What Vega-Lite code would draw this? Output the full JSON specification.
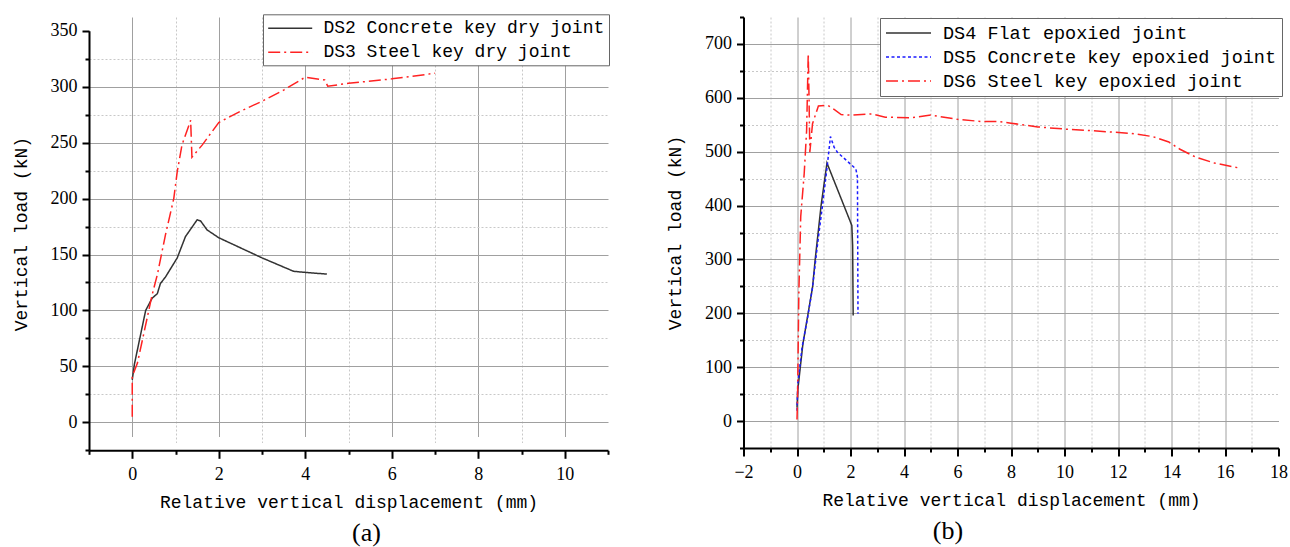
{
  "$schema": "https://vega.github.io/schema/vega-lite/v6.json",
  "background": "white",
  "padding": {"left": 12, "top": 13, "right": 0, "bottom": 0},
  "spacing": 56.5,
  "bounds": "full",
  "resolve": {"scale": {"color": "independent", "strokeDash": "independent"}, "legend": {"color": "independent", "strokeDash": "independent"}},
  "config": {
    "view": {"stroke": null},
    "axis": {"labelOverlap": false, "labelFlush": false}
  },
  "hconcat": [
    {
      "width": 519,
      "height": 433.3,
      "title": {"text": "(a)", "orient": "bottom", "anchor": "middle", "frame": "group", "dx": 18, "offset": 9, "font": "Liberation Serif", "fontSize": 26, "fontWeight": "normal", "color": "black"},
      "data": {"values": [
        {"series": "DS2 Concrete key dry joint", "disp": 0, "load": 38},
        {"series": "DS2 Concrete key dry joint", "disp": 0.05, "load": 52},
        {"series": "DS2 Concrete key dry joint", "disp": 0.31, "load": 100},
        {"series": "DS2 Concrete key dry joint", "disp": 0.46, "load": 111},
        {"series": "DS2 Concrete key dry joint", "disp": 0.58, "load": 115},
        {"series": "DS2 Concrete key dry joint", "disp": 0.65, "load": 124},
        {"series": "DS2 Concrete key dry joint", "disp": 0.77, "load": 130},
        {"series": "DS2 Concrete key dry joint", "disp": 1.04, "load": 147},
        {"series": "DS2 Concrete key dry joint", "disp": 1.23, "load": 166},
        {"series": "DS2 Concrete key dry joint", "disp": 1.5, "load": 181},
        {"series": "DS2 Concrete key dry joint", "disp": 1.58, "load": 180},
        {"series": "DS2 Concrete key dry joint", "disp": 1.73, "load": 172},
        {"series": "DS2 Concrete key dry joint", "disp": 2.0, "load": 165},
        {"series": "DS2 Concrete key dry joint", "disp": 3.0, "load": 147},
        {"series": "DS2 Concrete key dry joint", "disp": 3.73, "load": 135},
        {"series": "DS2 Concrete key dry joint", "disp": 4.0, "load": 134},
        {"series": "DS2 Concrete key dry joint", "disp": 4.5, "load": 132.5},
        {"series": "DS3 Steel key dry joint", "disp": 0, "load": 5},
        {"series": "DS3 Steel key dry joint", "disp": 0, "load": 41},
        {"series": "DS3 Steel key dry joint", "disp": 0.12, "load": 53},
        {"series": "DS3 Steel key dry joint", "disp": 0.46, "load": 114},
        {"series": "DS3 Steel key dry joint", "disp": 0.58, "load": 132},
        {"series": "DS3 Steel key dry joint", "disp": 0.77, "load": 168},
        {"series": "DS3 Steel key dry joint", "disp": 0.96, "load": 200},
        {"series": "DS3 Steel key dry joint", "disp": 1.04, "load": 224},
        {"series": "DS3 Steel key dry joint", "disp": 1.15, "load": 248},
        {"series": "DS3 Steel key dry joint", "disp": 1.27, "load": 261},
        {"series": "DS3 Steel key dry joint", "disp": 1.35, "load": 270},
        {"series": "DS3 Steel key dry joint", "disp": 1.38, "load": 237},
        {"series": "DS3 Steel key dry joint", "disp": 1.62, "load": 248},
        {"series": "DS3 Steel key dry joint", "disp": 2.0, "load": 268},
        {"series": "DS3 Steel key dry joint", "disp": 2.5, "load": 278},
        {"series": "DS3 Steel key dry joint", "disp": 3.0, "load": 287},
        {"series": "DS3 Steel key dry joint", "disp": 3.5, "load": 297},
        {"series": "DS3 Steel key dry joint", "disp": 4.0, "load": 308.5},
        {"series": "DS3 Steel key dry joint", "disp": 4.45, "load": 306},
        {"series": "DS3 Steel key dry joint", "disp": 4.52, "load": 300.5},
        {"series": "DS3 Steel key dry joint", "disp": 5.0, "load": 303},
        {"series": "DS3 Steel key dry joint", "disp": 6.0, "load": 307},
        {"series": "DS3 Steel key dry joint", "disp": 7.0, "load": 312}
      ]},
      "layer": [
        {
          "mark": {"type": "point", "opacity": 0},
          "encoding": {
            "x": {"field": "disp", "type": "quantitative", "scale": {"domain": [-1, 11], "nice": false, "zero": false},
                  "axis": {"orient": "bottom", "values": [1, 3, 5, 7, 9], "grid": true, "gridColor": "#c8c8c8", "gridWidth": 1, "ticks": false, "labels": false, "domain": false, "title": null,
                           "gridDash": [2,2,2,2,2,2,2,2,2,2,2,2,2,2,2,2,2,2,2,2,2,2,2,2,2,2,2,2,2,2,2,2,2,2,2,2,2,2,2,2,2,2,2,2,2,2,2,2,2,2,2,2,2,2,2,2,2,2,2,2,2,2,2,2,2,2,2,2,2,2,2,2,2,2,2,2,2,2,2,2,2,2,2,2,2,2,2,2,2,2,2,2,2,2,2,2,2,2,2,2,2,2,2,2,2,2,2,2,2,2,2,2,2,2,2,2,2,2,2,2,2,2,2,2,2,2,2,2,2,2,2,2,2,2,2,2,2,2,2,2,2,2,2,2,2,2,2,2,2,2,2,2,2,2,2,2,2,2,2,2,2,2,2,2,2,2,2,2,2,2,2,2,2,2,2,2,2,2,2,2,2,2,2,2,2,2,2,2,2,2,2,2,2,2,2,2,2,2,2,2,2,2,2,2,2,2,2,2,2,2,2,2,1.5,40]}},
            "y": {"field": "load", "type": "quantitative", "scale": {"domain": [-25, 362.3], "nice": false, "zero": false},
                  "axis": {"orient": "left", "values": [25, 75, 125, 175, 225, 275, 325], "grid": true, "gridColor": "#c8c8c8", "gridDash": [2, 2], "gridWidth": 1, "ticks": false, "labels": false, "domain": false, "title": null}}
          }
        },
        {
          "mark": {"type": "point", "opacity": 0},
          "encoding": {
            "x": {"field": "disp", "type": "quantitative", "scale": {"domain": [-1, 11], "nice": false, "zero": false},
                  "axis": {"orient": "bottom", "values": [0, 2, 4, 6, 8, 10], "grid": true, "gridColor": "#a0a0a0", "gridWidth": 1, "gridDash": [419.5, 40], "ticks": false, "labels": false, "domain": false, "title": null}},
            "y": {"field": "load", "type": "quantitative", "scale": {"domain": [-25, 362.3], "nice": false, "zero": false},
                  "axis": {"orient": "left", "values": [0, 50, 100, 150, 200, 250, 300], "grid": true, "gridColor": "#a0a0a0", "gridWidth": 1, "ticks": false, "labels": false, "domain": false, "title": null}}
          }
        },
        {
          "mark": {"type": "point", "opacity": 0},
          "encoding": {
            "x": {"field": "disp", "type": "quantitative", "scale": {"domain": [-1, 11], "nice": false, "zero": false},
                  "axis": {"orient": "bottom", "values": [-1, 1, 3, 5, 7, 9, 11], "grid": false, "ticks": true, "tickSize": 4, "tickWidth": 2, "tickColor": "black", "labels": false, "domain": false, "title": null}},
            "y": {"field": "load", "type": "quantitative", "scale": {"domain": [-25, 362.3], "nice": false, "zero": false},
                  "axis": {"orient": "left", "values": [-25, 25, 75, 125, 175, 225, 275, 325], "grid": false, "ticks": true, "tickSize": 4, "tickWidth": 2, "tickColor": "black", "labels": false, "domain": false, "title": null}}
          }
        },
        {
          "mark": {"type": "line", "strokeWidth": 1.5},
          "encoding": {
            "x": {"field": "disp", "type": "quantitative", "scale": {"domain": [-1, 11], "nice": false, "zero": false},
                  "axis": {"orient": "bottom", "values": [0, 2, 4, 6, 8, 10], "grid": false, "tickSize": 8, "tickWidth": 2, "tickColor": "black", "domain": true, "domainColor": "black", "domainWidth": 2, "labelFont": "Liberation Serif", "labelFontSize": 18, "labelColor": "black", "labelPadding": 7, "title": "Relative vertical displacement (mm)", "titleFont": "Liberation Mono", "titleFontSize": 18, "titleFontWeight": "normal", "titleColor": "black", "titlePadding": 10}},
            "y": {"field": "load", "type": "quantitative", "scale": {"domain": [-25, 362.3], "nice": false, "zero": false},
                  "axis": {"orient": "left", "values": [0, 50, 100, 150, 200, 250, 300, 350], "grid": false, "tickSize": 7, "tickWidth": 2, "tickColor": "black", "domain": true, "domainColor": "black", "domainWidth": 2, "domainDash": [419.5, 40], "labelFont": "Liberation Serif", "labelFontSize": 18, "labelColor": "black", "labelPadding": 5, "title": "Vertical load (kN)", "titleFont": "Liberation Mono", "titleFontSize": 18, "titleFontWeight": "normal", "titleColor": "black", "titlePadding": 20}},
            "color": {"field": "series", "type": "nominal",
                      "scale": {"domain": ["DS2 Concrete key dry joint", "DS3 Steel key dry joint"], "range": ["#333333", "#ff2222"]},
                      "legend": {"orient": "none", "legendX": 174, "legendY": -2.7, "title": null, "fillColor": "white", "strokeColor": "#666666", "padding": 4, "rowPadding": 5, "symbolType": "M-1,0H4", "symbolSize": 310, "symbolStrokeWidth": 1.5, "labelFont": "Liberation Mono", "labelFontSize": 18, "labelColor": "black", "labelOffset": 36.4, "labelLimit": 0}},
            "strokeDash": {"field": "series", "type": "nominal",
                      "scale": {"domain": ["DS2 Concrete key dry joint", "DS3 Steel key dry joint"], "range": [[1, 0], [12, 4, 2, 4]]},
                      "legend": {"orient": "none", "legendX": 174, "legendY": -2.7, "title": null, "fillColor": "white", "strokeColor": "#666666", "padding": 4, "rowPadding": 5, "symbolType": "M-1,0H4", "symbolSize": 310, "symbolStrokeWidth": 1.5, "labelFont": "Liberation Mono", "labelFontSize": 18, "labelColor": "black", "labelOffset": 36.4, "labelLimit": 0}},
            "order": {"value": null}
          }
        }
      ],
      "resolve": {"axis": {"x": "independent", "y": "independent"}}
    },
    {
      "width": 535,
      "height": 431,
      "title": {"text": "(b)", "orient": "bottom", "anchor": "middle", "frame": "group", "dx": -63, "offset": 9, "font": "Liberation Serif", "fontSize": 26, "fontWeight": "normal", "color": "black"},
      "data": {"values": [
        {"series": "DS4 Flat epoxied joint", "disp": 0, "load": 25},
        {"series": "DS4 Flat epoxied joint", "disp": 0.03, "load": 58},
        {"series": "DS4 Flat epoxied joint", "disp": 0.22, "load": 143},
        {"series": "DS4 Flat epoxied joint", "disp": 0.58, "load": 248},
        {"series": "DS4 Flat epoxied joint", "disp": 0.68, "load": 300},
        {"series": "DS4 Flat epoxied joint", "disp": 0.9, "load": 400},
        {"series": "DS4 Flat epoxied joint", "disp": 1.12, "load": 479},
        {"series": "DS4 Flat epoxied joint", "disp": 2.05, "load": 363},
        {"series": "DS4 Flat epoxied joint", "disp": 2.08, "load": 326},
        {"series": "DS4 Flat epoxied joint", "disp": 2.1, "load": 196},
        {"series": "DS5 Concrete key epoxied joint", "disp": 0, "load": 19},
        {"series": "DS5 Concrete key epoxied joint", "disp": 0.03, "load": 69},
        {"series": "DS5 Concrete key epoxied joint", "disp": 0.19, "load": 137},
        {"series": "DS5 Concrete key epoxied joint", "disp": 0.4, "load": 193},
        {"series": "DS5 Concrete key epoxied joint", "disp": 0.58, "load": 248},
        {"series": "DS5 Concrete key epoxied joint", "disp": 0.77, "load": 329},
        {"series": "DS5 Concrete key epoxied joint", "disp": 0.96, "load": 403},
        {"series": "DS5 Concrete key epoxied joint", "disp": 1.14, "load": 478},
        {"series": "DS5 Concrete key epoxied joint", "disp": 1.25, "load": 528},
        {"series": "DS5 Concrete key epoxied joint", "disp": 1.39, "load": 508},
        {"series": "DS5 Concrete key epoxied joint", "disp": 1.51, "load": 499},
        {"series": "DS5 Concrete key epoxied joint", "disp": 2.2, "load": 468},
        {"series": "DS5 Concrete key epoxied joint", "disp": 2.26, "load": 453},
        {"series": "DS5 Concrete key epoxied joint", "disp": 2.28, "load": 199},
        {"series": "DS6 Steel key epoxied joint", "disp": 0, "load": 3},
        {"series": "DS6 Steel key epoxied joint", "disp": 0.02, "load": 40},
        {"series": "DS6 Steel key epoxied joint", "disp": 0.07, "load": 240},
        {"series": "DS6 Steel key epoxied joint", "disp": 0.14, "load": 380},
        {"series": "DS6 Steel key epoxied joint", "disp": 0.27, "load": 460},
        {"series": "DS6 Steel key epoxied joint", "disp": 0.36, "load": 540},
        {"series": "DS6 Steel key epoxied joint", "disp": 0.42, "load": 682},
        {"series": "DS6 Steel key epoxied joint", "disp": 0.45, "load": 600},
        {"series": "DS6 Steel key epoxied joint", "disp": 0.48, "load": 499},
        {"series": "DS6 Steel key epoxied joint", "disp": 0.58, "load": 552},
        {"series": "DS6 Steel key epoxied joint", "disp": 0.8, "load": 585},
        {"series": "DS6 Steel key epoxied joint", "disp": 1.15, "load": 586},
        {"series": "DS6 Steel key epoxied joint", "disp": 1.4, "load": 578},
        {"series": "DS6 Steel key epoxied joint", "disp": 1.65, "load": 569},
        {"series": "DS6 Steel key epoxied joint", "disp": 2.0, "load": 568},
        {"series": "DS6 Steel key epoxied joint", "disp": 2.8, "load": 570},
        {"series": "DS6 Steel key epoxied joint", "disp": 3.3, "load": 564},
        {"series": "DS6 Steel key epoxied joint", "disp": 4.3, "load": 563},
        {"series": "DS6 Steel key epoxied joint", "disp": 5.0, "load": 568},
        {"series": "DS6 Steel key epoxied joint", "disp": 6.0, "load": 560},
        {"series": "DS6 Steel key epoxied joint", "disp": 6.9, "load": 556},
        {"series": "DS6 Steel key epoxied joint", "disp": 7.5, "load": 556},
        {"series": "DS6 Steel key epoxied joint", "disp": 8.0, "load": 553},
        {"series": "DS6 Steel key epoxied joint", "disp": 9.0, "load": 546},
        {"series": "DS6 Steel key epoxied joint", "disp": 10.0, "load": 542},
        {"series": "DS6 Steel key epoxied joint", "disp": 11.0, "load": 539},
        {"series": "DS6 Steel key epoxied joint", "disp": 12.5, "load": 534},
        {"series": "DS6 Steel key epoxied joint", "disp": 13.3, "load": 528},
        {"series": "DS6 Steel key epoxied joint", "disp": 13.9, "load": 518},
        {"series": "DS6 Steel key epoxied joint", "disp": 14.3, "load": 505},
        {"series": "DS6 Steel key epoxied joint", "disp": 14.9, "load": 490},
        {"series": "DS6 Steel key epoxied joint", "disp": 15.6, "load": 479},
        {"series": "DS6 Steel key epoxied joint", "disp": 16.5, "load": 470}
      ]},
      "layer": [
        {
          "mark": {"type": "point", "opacity": 0},
          "encoding": {
            "x": {"field": "disp", "type": "quantitative", "scale": {"domain": [-2, 18], "nice": false, "zero": false},
                  "axis": {"orient": "bottom", "values": [-1, 1, 3, 5, 7, 9, 11, 13, 15, 17], "grid": true, "gridColor": "#c8c8c8", "gridDash": [2, 2], "gridWidth": 1, "ticks": false, "labels": false, "domain": false, "title": null}},
            "y": {"field": "load", "type": "quantitative", "scale": {"domain": [-50, 750], "nice": false, "zero": false},
                  "axis": {"orient": "left", "values": [50, 150, 250, 350, 450, 550, 650], "grid": true, "gridColor": "#c8c8c8", "gridDash": [2, 2], "gridWidth": 1, "ticks": false, "labels": false, "domain": false, "title": null}}
          }
        },
        {
          "mark": {"type": "point", "opacity": 0},
          "encoding": {
            "x": {"field": "disp", "type": "quantitative", "scale": {"domain": [-2, 18], "nice": false, "zero": false},
                  "axis": {"orient": "bottom", "values": [0, 2, 4, 6, 8, 10, 12, 14, 16], "grid": true, "gridColor": "#a0a0a0", "gridWidth": 1, "ticks": false, "labels": false, "domain": false, "title": null}},
            "y": {"field": "load", "type": "quantitative", "scale": {"domain": [-50, 750], "nice": false, "zero": false},
                  "axis": {"orient": "left", "values": [0, 100, 200, 300, 400, 500, 600, 700], "grid": true, "gridColor": "#a0a0a0", "gridWidth": 1, "ticks": false, "labels": false, "domain": false, "title": null}}
          }
        },
        {
          "mark": {"type": "point", "opacity": 0},
          "encoding": {
            "x": {"field": "disp", "type": "quantitative", "scale": {"domain": [-2, 18], "nice": false, "zero": false},
                  "axis": {"orient": "bottom", "values": [-1, 1, 3, 5, 7, 9, 11, 13, 15, 17], "grid": false, "ticks": true, "tickSize": 4, "tickWidth": 2, "tickColor": "black", "labels": false, "domain": false, "title": null}},
            "y": {"field": "load", "type": "quantitative", "scale": {"domain": [-50, 750], "nice": false, "zero": false},
                  "axis": {"orient": "left", "values": [-50, 50, 150, 250, 350, 450, 550, 650, 750], "grid": false, "ticks": true, "tickSize": 4, "tickWidth": 2, "tickColor": "black", "labels": false, "domain": false, "title": null}}
          }
        },
        {
          "mark": {"type": "line", "strokeWidth": 1.5},
          "encoding": {
            "x": {"field": "disp", "type": "quantitative", "scale": {"domain": [-2, 18], "nice": false, "zero": false},
                  "axis": {"orient": "bottom", "values": [-2, 0, 2, 4, 6, 8, 10, 12, 14, 16, 18], "grid": false, "tickSize": 8, "tickWidth": 2, "tickColor": "black", "domain": true, "domainColor": "black", "domainWidth": 2, "labelFont": "Liberation Serif", "labelFontSize": 18, "labelColor": "black", "labelPadding": 7, "title": "Relative vertical displacement (mm)", "titleFont": "Liberation Mono", "titleFontSize": 18, "titleFontWeight": "normal", "titleColor": "black", "titlePadding": 10}},
            "y": {"field": "load", "type": "quantitative", "scale": {"domain": [-50, 750], "nice": false, "zero": false},
                  "axis": {"orient": "left", "values": [0, 100, 200, 300, 400, 500, 600, 700], "grid": false, "tickSize": 7, "tickWidth": 2, "tickColor": "black", "domain": true, "domainColor": "black", "domainWidth": 2, "labelFont": "Liberation Serif", "labelFontSize": 18, "labelColor": "black", "labelPadding": 5, "title": "Vertical load (kN)", "titleFont": "Liberation Mono", "titleFontSize": 18, "titleFontWeight": "normal", "titleColor": "black", "titlePadding": 20}},
            "color": {"field": "series", "type": "nominal",
                      "scale": {"domain": ["DS4 Flat epoxied joint", "DS5 Concrete key epoxied joint", "DS6 Steel key epoxied joint"], "range": ["#333333", "#1a1aff", "#ff2222"]},
                      "legend": {"orient": "none", "legendX": 136.5, "legendY": 1, "title": null, "fillColor": "white", "strokeColor": "#666666", "padding": 5, "rowPadding": 4, "symbolType": "M-1,0H4", "symbolSize": 324, "symbolStrokeWidth": 1.5, "labelFont": "Liberation Mono", "labelFontSize": 18.5, "labelColor": "black", "labelOffset": 38, "labelLimit": 0}},
            "strokeDash": {"field": "series", "type": "nominal",
                      "scale": {"domain": ["DS4 Flat epoxied joint", "DS5 Concrete key epoxied joint", "DS6 Steel key epoxied joint"], "range": [[1, 0], [3, 2.5], [12, 4, 2, 4]]},
                      "legend": {"orient": "none", "legendX": 136.5, "legendY": 1, "title": null, "fillColor": "white", "strokeColor": "#666666", "padding": 5, "rowPadding": 4, "symbolType": "M-1,0H4", "symbolSize": 324, "symbolStrokeWidth": 1.5, "labelFont": "Liberation Mono", "labelFontSize": 18.5, "labelColor": "black", "labelOffset": 38, "labelLimit": 0}},
            "order": {"value": null}
          }
        }
      ],
      "resolve": {"axis": {"x": "independent", "y": "independent"}}
    }
  ]
}
